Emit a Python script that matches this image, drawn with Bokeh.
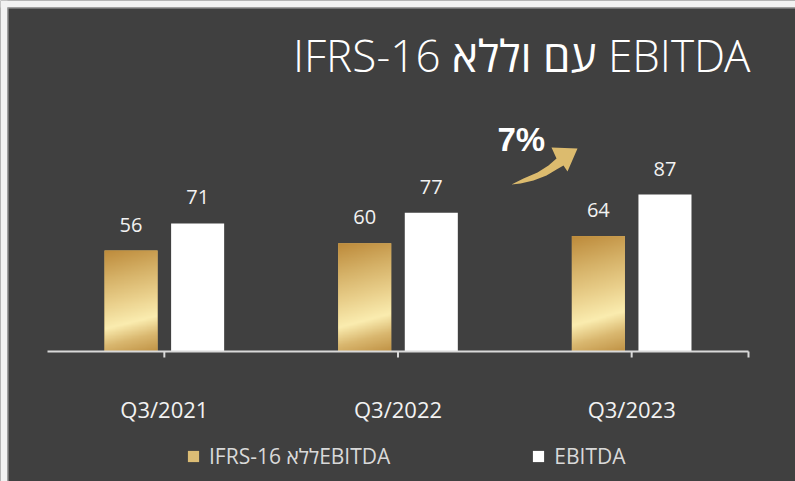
import numpy as np
from bokeh.plotting import figure
from bokeh.models import Range1d, Legend, LegendItem, ColumnDataSource, Label
from bokeh.core.properties import value
from bokeh.embed import file_html
from bokeh.resources import INLINE

# ---- data ----
categories = ["Q3/2021", "Q3/2022", "Q3/2023"]
ebitda_ex_ifrs16 = [56, 60, 64]
ebitda = [71, 77, 87]
series_names = ["IFRS-16 ללאEBITDA", "EBITDA"]
title_text = "IFRS-16 עם וללא EBITDA"
growth_text = "7%"

# ---- style / geometry (pixels of the 795x481 canvas) ----
W, H = 795, 481
BG = "#404040"
AXIS_C = "#d9d9d9"
FONT = "Open Sans"
BAR_W = 0.227
OFF = 0.1425
GOLD = "#dcbd75"
PX_X = 701 / 3.0          # pixels per category unit
PX_Y = 1.8035             # pixels per value unit
AX_LEFT, AX_RIGHT, BASE_Y = 47, 748, 351

p = figure(width=W, height=H, output_backend="svg", toolbar_location=None,
           x_range=Range1d(-0.5 - AX_LEFT / PX_X, 2.5 + (W - AX_RIGHT) / PX_X),
           y_range=Range1d(-(H - BASE_Y) / PX_Y, BASE_Y / PX_Y),
           x_axis_location=None, y_axis_location=None,
           min_border_left=0, min_border_right=0, min_border_top=0, min_border_bottom=0,
           background_fill_color=BG, border_fill_color=BG)
p.outline_line_color = None
p.xgrid.visible = False
p.ygrid.visible = False


def dx(px):
    return (px - AX_LEFT) / PX_X - 0.5


def dy(py):
    return (BASE_Y - py) / PX_Y


# slide edge (light margin at top / left)
p.quad(left=[dx(0), dx(0)], right=[dx(7), dx(W)], bottom=[dy(H), dy(7)], top=[dy(0), dy(0)],
       fill_color="#f2f2f2", line_color=None)
p.quad(left=[dx(7), dx(7)], right=[dx(8), dx(W)], bottom=[dy(H), dy(8)], top=[dy(7), dy(7)],
       fill_color="#a6a6a6", line_color=None)

x = np.arange(len(categories), dtype=float)
src = ColumnDataSource(dict(
    x=x, cat=categories,
    gx=x - OFF, wx=x + OFF, g=ebitda_ex_ifrs16, w=ebitda,
    gl=[str(v) for v in ebitda_ex_ifrs16], wl=[str(v) for v in ebitda]))

gold_r = p.vbar(x="gx", top="g", bottom=0, width=BAR_W, fill_color=GOLD,
                line_color=None, source=src)


def gradient_image(rows=180, cols=60):
    v = 1 - (np.arange(rows) + 0.5) / rows
    u = (np.arange(cols) + 0.5) / cols
    t = v[:, None] + 0.13 * u[None, :]
    st = [0.0, 0.3, 0.55, 0.78, 0.95, 1.13]
    R = [189, 214, 234, 251, 218, 192]
    G = [138, 178, 208, 237, 184, 146]
    B = [58, 104, 140, 176, 112, 68]
    img = np.empty((rows, cols), dtype=np.uint32)
    view = img.view(dtype=np.uint8).reshape((rows, cols, 4))
    view[..., 0] = np.interp(t, st, R)
    view[..., 1] = np.interp(t, st, G)
    view[..., 2] = np.interp(t, st, B)
    view[..., 3] = 255
    return img


p.image_rgba(image=[gradient_image() for _ in ebitda_ex_ifrs16],
             x=list(x - OFF - BAR_W / 2), y=[0] * len(x),
             dw=[BAR_W] * len(x), dh=ebitda_ex_ifrs16)

white_r = p.vbar(x="wx", top="w", bottom=0, width=BAR_W, fill_color="#ffffff",
                 line_color=None, source=src)

for col, lab in (("gx", "g"), ("wx", "w")):
    p.text(x=col, y=lab, text=lab + "l", source=src, y_offset=-26,
           text_align="center", text_baseline="middle",
           text_font=value(FONT), text_font_size="20px", text_color="#f2f2f2")

# ---- category axis: baseline, ticks, labels ----
p.segment(x0=[-0.5], y0=[0], x1=[len(categories) - 0.5], y1=[0],
          line_color=AXIS_C, line_width=2)
tick_x = list(x) + [len(categories) - 0.5]
p.segment(x0=tick_x, y0=[0] * len(tick_x), x1=tick_x, y1=[-6 / PX_Y] * len(tick_x),
          line_color=AXIS_C, line_width=2)
p.text(x="x", y=0, text="cat", source=src, y_offset=57,
       text_align="center", text_baseline="middle",
       text_font=value(FONT), text_font_size="22px", text_color="#f2f2f2")

# ---- title ----
p.add_layout(Label(x=dx(750), y=dy(54), text=title_text,
                   text_font="Open Sans Light, Lato Light, Open Sans",
                   text_font_size="44px", text_color="#ffffff",
                   text_align="right", text_baseline="middle"))

# ---- legend ----
legend = Legend(items=[LegendItem(label=series_names[0], renderers=[gold_r]),
                       LegendItem(label=series_names[1], renderers=[white_r])],
                orientation="horizontal", location=(186, 11),
                background_fill_alpha=0, border_line_color=None,
                label_text_color="#d9d9d9", label_text_font=FONT,
                label_text_font_size="21px", glyph_width=14, glyph_height=14,
                label_standoff=9, spacing=141, padding=0, margin=0)
p.add_layout(legend, "center")

# ---- growth annotation ----
arrow_px = [(511, 184), (523, 178), (537, 172), (548, 165), (556, 158), (551, 147),
            (577, 148), (567, 171), (563, 165), (556, 169), (546, 175), (533, 180),
            (520, 183)]
p.patch([dx(a) for a, b in arrow_px], [dy(b) for a, b in arrow_px],
        fill_color="#dcbb6e", line_color=None)

p.add_layout(Label(x=dx(497), y=dy(139), text=growth_text, text_font="Liberation Sans",
                   text_font_style="bold", text_font_size="33px", text_color="#ffffff",
                   text_align="left", text_baseline="middle"))

open("out.html", "w").write(file_html(p, INLINE))
